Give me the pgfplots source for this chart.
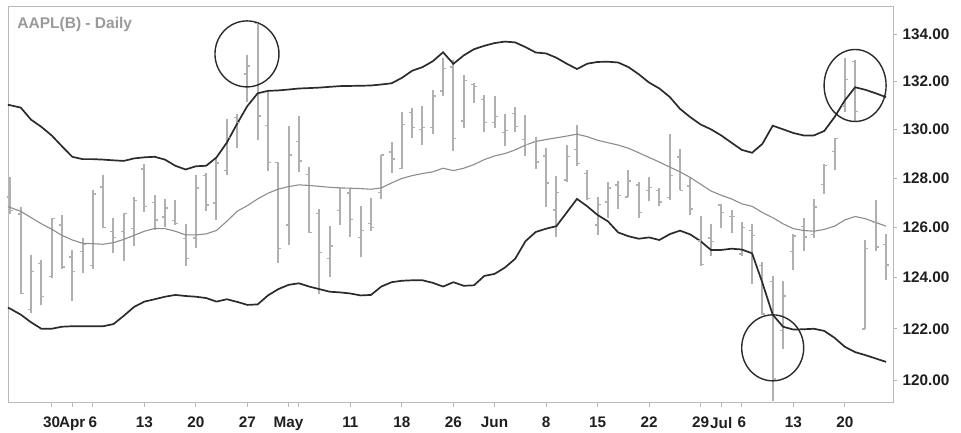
\documentclass[border=0pt]{standalone}
\usepackage{fontspec}
\setmainfont{Liberation Sans}
\usepackage{pgfplots}
\usepackage{pgfplotstable}
\pgfplotsset{compat=1.18}

\definecolor{barcol}{HTML}{B0B0B0}
\definecolor{bandcol}{HTML}{2B2B2B}
\definecolor{midcol}{HTML}{8C8C8C}
\definecolor{framecol}{HTML}{B8B8B8}

% open tick to the left, close tick to the right
\pgfdeclareplotmark{otick}{\pgfpathmoveto{\pgfqpoint{-3pt}{0pt}}\pgfpathlineto{\pgfqpoint{0pt}{0pt}}\pgfusepathqstroke}
\pgfdeclareplotmark{ctick}{\pgfpathmoveto{\pgfqpoint{0pt}{0pt}}\pgfpathlineto{\pgfqpoint{3pt}{0pt}}\pgfusepathqstroke}

% daily bars, i = trading day (0 = Mar 30)
\pgfplotstableread{
i o h l c
-4 127.23 128.04 126.56 126.69
-3 126.54 126.82 123.38 123.38
-2 122.76 124.88 122.60 124.24
-1 124.57 124.70 122.91 123.25
0 124.05 126.40 124.00 126.37
1 126.09 126.49 124.36 124.43
2 124.82 125.12 123.10 124.25
3 125.03 125.56 124.19 125.32
4 124.47 127.51 124.33 127.35
5 127.64 128.12 125.98 126.01
6 125.85 126.40 124.97 125.60
7 125.85 126.58 124.66 126.56
8 125.95 127.21 125.26 127.10
9 128.37 128.57 126.61 126.85
10 127.00 127.29 125.91 126.30
11 126.41 127.13 126.01 126.78
12 126.28 127.10 126.11 126.17
13 125.55 126.14 124.46 124.75
14 125.57 128.12 125.17 127.60
15 128.10 128.20 126.67 126.91
16 126.99 128.87 126.32 128.62
17 128.30 130.42 128.14 129.67
18 130.49 130.63 129.23 130.28
19 132.31 133.13 131.15 132.65
20 134.46 134.54 129.57 130.56
21 130.16 131.59 128.30 128.64
22 128.64 128.64 124.58 125.15
23 126.10 130.13 125.30 128.95
24 129.50 130.57 128.26 128.70
25 128.15 128.45 125.78 125.80
26 126.56 126.75 123.36 125.01
27 124.77 126.08 124.02 125.26
28 126.68 127.62 126.11 127.62
29 127.39 127.56 125.63 126.32
30 125.60 126.88 124.82 125.87
31 126.15 127.19 125.87 126.01
32 127.41 128.95 127.16 128.95
33 129.07 129.49 128.21 128.77
34 128.38 130.72 128.36 130.19
35 130.69 130.88 129.64 130.07
36 130.00 130.98 129.34 130.06
37 130.07 131.63 129.83 131.39
38 131.60 132.97 131.40 132.54
39 132.60 132.91 129.12 129.62
40 130.34 132.26 130.05 132.04
41 131.86 131.95 131.10 131.78
42 131.23 131.45 129.90 130.28
43 130.28 131.39 130.05 130.54
44 129.86 130.66 129.32 129.96
45 130.66 130.94 129.90 130.12
46 129.58 130.58 128.91 129.36
47 129.50 129.69 128.36 128.65
48 128.90 129.21 126.83 127.80
49 126.70 128.08 125.62 127.42
50 127.92 129.34 127.85 128.88
51 129.18 130.18 128.48 128.59
52 128.19 128.33 127.11 127.17
53 126.10 127.24 125.71 126.92
54 127.03 127.85 126.37 127.60
55 127.72 127.88 126.74 127.30
56 127.23 128.31 127.22 127.88
57 127.71 127.82 126.40 126.60
58 127.49 128.06 127.08 127.61
59 127.48 127.61 126.88 127.03
60 127.21 129.80 127.12 128.11
61 128.86 129.20 127.50 127.50
62 127.67 127.99 126.51 126.75
63 125.46 126.47 124.48 124.53
64 125.57 126.12 124.86 125.43
65 126.90 126.94 125.99 126.60
66 126.43 126.69 125.77 126.44
67 124.94 126.23 124.85 126.00
68 125.89 126.15 123.77 125.69
69 124.48 124.64 122.54 122.57
70 123.85 124.06 119.22 120.07
71 121.94 123.85 121.21 123.28
72 125.03 125.76 124.32 125.66
73 126.04 126.37 125.04 125.61
74 125.72 127.15 125.58 126.82
75 127.74 128.57 127.35 128.51
76 129.08 129.62 128.31 129.62
77 130.97 132.97 130.70 132.07
78 132.85 132.92 130.32 130.75
79 121.99 125.50 121.99 125.16
80 126.20 127.09 125.06 125.22
81 125.32 125.74 123.90 124.50
}\ohlc

% bollinger bands
\pgfplotstableread{
i up mid lo
-4.3 131.02 126.85 122.83
-4 131.00 126.80 122.78
-3 130.90 126.65 122.55
-2 130.40 126.40 122.25
-1 130.10 126.15 122.00
0 129.75 125.93 122.00
1 129.30 125.68 122.08
2 128.87 125.50 122.10
3 128.77 125.37 122.10
4 128.77 125.35 122.10
5 128.75 125.33 122.10
6 128.72 125.39 122.18
7 128.70 125.52 122.50
8 128.80 125.68 122.85
9 128.85 125.85 123.06
10 128.87 125.96 123.15
11 128.75 125.95 123.25
12 128.50 125.85 123.32
13 128.35 125.70 123.28
14 128.48 125.70 123.25
15 128.50 125.74 123.20
16 128.84 125.88 123.06
17 129.45 126.25 123.15
18 130.23 126.65 123.05
19 130.97 126.88 122.93
20 131.50 127.15 122.95
21 131.60 127.38 123.30
22 131.62 127.55 123.55
23 131.66 127.65 123.72
24 131.70 127.72 123.78
25 131.72 127.70 123.65
26 131.74 127.66 123.55
27 131.77 127.62 123.45
28 131.80 127.60 123.42
29 131.81 127.58 123.38
30 131.82 127.57 123.30
31 131.83 127.54 123.32
32 131.87 127.60 123.65
33 131.92 127.80 123.82
34 132.15 127.98 123.88
35 132.45 128.10 123.90
36 132.60 128.18 123.90
37 132.85 128.25 123.80
38 133.23 128.40 123.65
39 132.74 128.30 123.82
40 133.10 128.40 123.68
41 133.36 128.55 123.70
42 133.50 128.75 124.07
43 133.62 128.90 124.15
44 133.68 129.00 124.40
45 133.65 129.15 124.75
46 133.45 129.35 125.45
47 133.22 129.50 125.82
48 133.18 129.58 125.95
49 133.00 129.65 126.05
50 132.75 129.72 126.60
51 132.52 129.80 127.15
52 132.75 129.70 126.85
53 132.82 129.55 126.50
54 132.83 129.45 126.25
55 132.80 129.35 125.80
56 132.60 129.22 125.65
57 132.30 129.03 125.55
58 131.95 128.84 125.60
59 131.70 128.65 125.50
60 131.35 128.45 125.73
61 130.85 128.25 125.87
62 130.50 128.02 125.72
63 130.20 127.75 125.45
64 130.00 127.47 125.10
65 129.75 127.30 125.10
66 129.45 127.15 125.15
67 129.15 126.95 125.12
68 129.03 126.85 124.97
69 129.40 126.60 123.80
70 130.15 126.40 122.55
71 130.00 126.15 122.08
72 129.85 125.95 121.97
73 129.75 125.88 121.98
74 129.75 125.85 122.00
75 129.93 125.92 121.92
76 130.50 126.05 121.65
77 131.20 126.30 121.30
78 131.75 126.44 121.10
79 131.65 126.35 120.98
80 131.50 126.20 120.85
81 131.34 126.05 120.72
}\bands

\begin{document}
\begin{tikzpicture}
\useasboundingbox (-8pt,-30pt) rectangle (953pt,403pt);
\begin{axis}[
    scale only axis,
    width=885pt, height=396pt,
    ymode=log,
    xmin=-4.24, xmax=81.68,
    ymin=119.16, ymax=135.17,
    axis line style={framecol, line width=0.8pt},
    tick style={framecol, line width=0.8pt},
    tick align=outside,
    major tick length=4pt,
    xtick pos=bottom,
    ytick pos=right,
    yticklabel pos=right,
    yminorticks=false,
    xtick={0,2,4,9,14,19,23,24,29,34,39,43,48,53,58,63,65,67,72,77},
    xticklabels={30,Apr,6,13,20,27,May,,11,18,26,Jun,8,15,22,29,Jul,6,13,20},
    ytick={120,122,124,126,128,130,132,134},
    yticklabels={120.00,122.00,124.00,126.00,128.00,130.00,132.00,134.00},
    ticklabel style={font=\bfseries\fontsize{15.3}{16}\selectfont, text=black!88},
    xticklabel style={yshift=-7pt},
    yticklabel style={xshift=2pt},
]

% high-low range of each day
\addplot[draw=none, mark=none,
    error bars/.cd, y dir=plus, y explicit, error mark=none,
    error bar style={draw=barcol, line width=2pt}]
    table[x=i, y=l, y error expr=\thisrow{h}-\thisrow{l}] {\ohlc};
\addplot[only marks, mark=otick, mark options={draw=barcol, line width=1.4pt}]
    table[x=i, y=o] {\ohlc};
\addplot[only marks, mark=ctick, mark options={draw=barcol, line width=1.4pt}]
    table[x=i, y=c] {\ohlc};

\addplot[midcol, line width=1.1pt] table[x=i, y=mid] {\bands};
\addplot[bandcol, line width=1.7pt] table[x=i, y=up] {\bands};
\addplot[bandcol, line width=1.7pt] table[x=i, y=lo] {\bands};

\draw[bandcol, line width=1.4pt] (axis cs:18.96,133.16) ellipse [x radius=32pt, y radius=33pt];
\draw[bandcol, line width=1.4pt] (axis cs:78,131.83) ellipse [x radius=31pt, y radius=36pt];
\draw[bandcol, line width=1.4pt] (axis cs:70,121.26) ellipse [x radius=31pt, y radius=33pt];

\node[anchor=base west, inner sep=0pt, font=\bfseries\fontsize{15.5}{16}\selectfont,
    text=black!40, xshift=9.3pt, yshift=-21.3pt] at (rel axis cs:0,1) {AAPL(B) - Daily};
\end{axis}
\end{tikzpicture}
\end{document}
